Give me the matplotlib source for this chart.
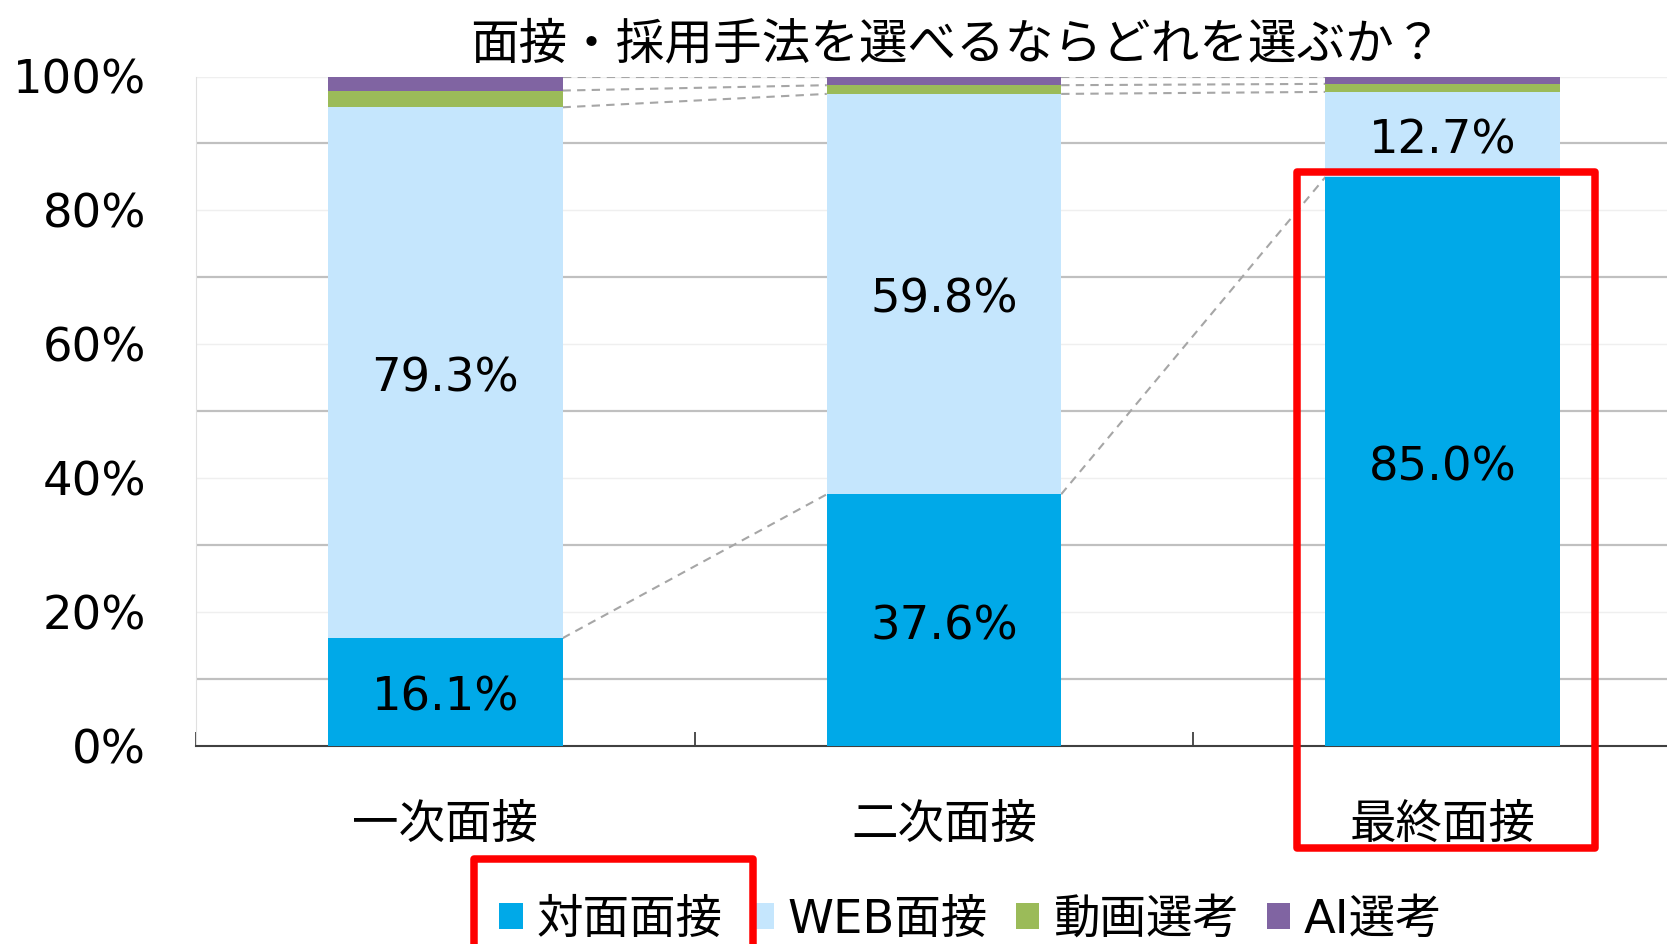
import matplotlib
matplotlib.use('Agg')
import matplotlib.pyplot as plt
from matplotlib.patches import Rectangle
from matplotlib.transforms import offset_copy
import numpy as np

plt.rcParams['font.family'] = ['DejaVu Sans', 'Noto Sans CJK JP']

# データ
categories = ['一次面接', '二次面接', '最終面接']
series_names = ['対面面接', 'WEB面接', '動画選考', 'AI選考']
face = [16.1, 37.6, 85.0]
web = [79.3, 59.8, 12.7]
video = [2.5, 1.3, 1.2]
ai = [2.1, 1.3, 1.1]
colors = ['#00A9E8', '#C5E6FD', '#9BBB59', '#8064A2']
title = '面接・採用手法を選べるならどれを選ぶか？'

W, H = 1667, 944
fig = plt.figure(figsize=(W / 100, H / 100), dpi=100)
ax = fig.add_axes([196 / W, 198 / H, 1496 / W, 669.5 / H])

label_tr = offset_copy(ax.transData, fig=fig, y=-4.6, units='points')

x = np.arange(len(categories))
bw = 0.47
bottom = np.zeros(len(categories))
tops = []
for k, (vals, name, c) in enumerate(zip([face, web, video, ai], series_names, colors)):
    vals = np.array(vals)
    ax.bar(x, vals, bw, bottom=bottom, color=c, label=name, zorder=3)
    if k < 2:
        for i in range(len(x)):
            ax.text(x[i], bottom[i] + vals[i] / 2, f'{vals[i]:.1f}%', transform=label_tr,
                    ha='center', va='center', fontsize=33.5, zorder=4)
    bottom = bottom + vals
    tops.append(bottom.copy())

# 系列線
for t in tops:
    for i in range(len(x) - 1):
        ax.plot([x[i] + bw / 2, x[i + 1] - bw / 2], [t[i], t[i + 1]],
                ls=(0, (4, 3)), color='#a6a6a6', lw=1.5, zorder=2)

ax.set_xlim(-0.5, 2.5)
ax.set_ylim(0, 100)
ax.set_yticks(range(0, 101, 20))
ax.set_yticklabels([f'{v}%' for v in range(0, 101, 20)])
ax.set_yticks(range(10, 100, 20), minor=True)
ax.yaxis.grid(True, which='minor', color='#c0c0c0', lw=1.6, zorder=0)
ax.yaxis.grid(True, which='major', color='#efefef', lw=1, zorder=0)
ax.tick_params(axis='y', which='both', length=0, labelsize=33.5, pad=36)

ax.set_xticks(x)
ax.set_xticklabels(categories)
ax.set_xticks([-0.5, 0.5, 1.5, 2.5], minor=True)
ax.tick_params(axis='x', which='major', length=0, labelsize=33.5, pad=41)
ax.tick_params(axis='x', which='minor', direction='in', length=10, width=1.3, color='#404040')

for s in ['top', 'right']:
    ax.spines[s].set_visible(False)
ax.spines['left'].set_color('#e0e0e0')
ax.spines['bottom'].set_color('#404040')
ax.spines['bottom'].set_linewidth(1.5)

fig.text(956 / W, 1 - 44.5 / H, title, ha='center', va='center', fontsize=35)

fig.legend(loc='center', bbox_to_anchor=(971 / W, 1 - 920 / H), ncol=4, frameon=False,
           fontsize=33.5, handlelength=0.5, handleheight=0.5, handletextpad=0.3,
           columnspacing=0.6, borderaxespad=0)

# 赤枠
for (x0, y0, x1, y1) in [(1297, 172, 1595, 848), (474, 859, 753, 960)]:
    fig.patches.append(Rectangle((x0 / W, 1 - y1 / H), (x1 - x0) / W, (y1 - y0) / H,
                                 transform=fig.transFigure, fill=False,
                                 edgecolor='#ff0000', lw=5.4, joinstyle='round', zorder=10))

fig.savefig('out.png', dpi=100)
